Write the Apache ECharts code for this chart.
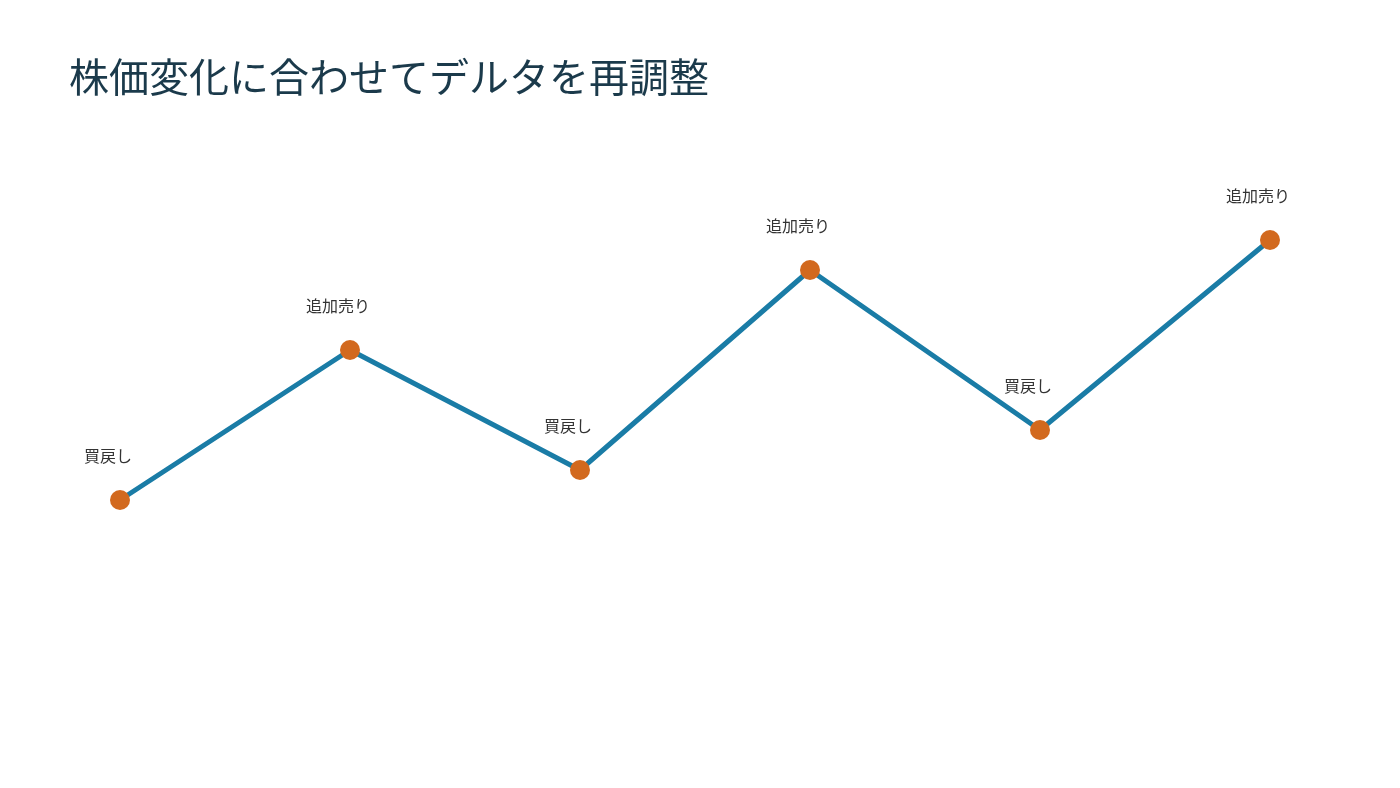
<!DOCTYPE html>
<html><head><meta charset="utf-8">
<script src="https://cdn.jsdelivr.net/npm/echarts@6/dist/echarts.min.js"></script>
<style>html,body{margin:0;background:#fff}#c{width:1400px;height:788px}</style>
</head><body><div id="c"></div>
<script>
const titleText = '株価変化に合わせてデルタを再調整';
const steps = ['1','2','3','4','5','6'];
const prices = [10, 25, 13, 33, 17, 36];
const actions = ['買戻し','追加売り','買戻し','追加売り','買戻し','追加売り'];
const chart = echarts.init(document.getElementById('c'));
chart.setOption({
  backgroundColor:'#fff',
  title:{text:titleText,left:64,top:52,textStyle:{fontFamily:'Noto Sans CJK JP',fontSize:40,fontWeight:'normal',color:'#1b3a4b'}},
  grid:{left:120,right:130,top:200,bottom:188},
  xAxis:{type:'category',data:steps,boundaryGap:false,show:false},
  yAxis:{type:'value',min:0,max:40,show:false},
  series:[{type:'line',data:prices,symbol:'circle',symbolSize:20,
    lineStyle:{color:'#1a7ca6',width:5},
    itemStyle:{color:'#d2691e'},
    label:{show:true,position:'top',distance:26,offset:[-12,0],fontFamily:'Noto Sans CJK JP',fontSize:16,color:'#333',
      formatter:p=>actions[p.dataIndex]}
  }]
});
</script></body></html>
